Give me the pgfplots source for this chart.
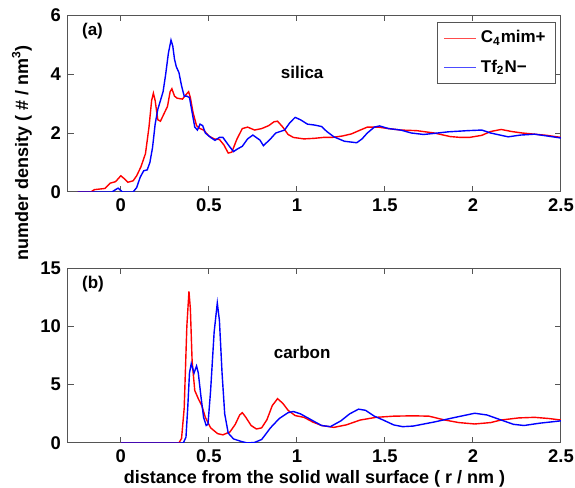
\documentclass[border=0pt]{standalone}
\usepackage{fontspec}
\setmainfont{Liberation Sans}
\usepackage{pgfplots}
\pgfplotsset{compat=1.18}
\definecolor{framegray}{HTML}{555555}

\newcommand\tickf{\fontsize{9.2}{11}\selectfont\bfseries}
\newcommand\labf{\fontsize{9}{11}\selectfont\bfseries}
\newcommand\notef{\fontsize{8.5}{10}\selectfont\bfseries}

\pgfplotsset{
  panel/.style={
    scale only axis,
    width=246.5pt,
    xmin=-0.3, xmax=2.5,
    xtick={0,0.5,1,1.5,2,2.5},
    tick align=inside,
    major tick length=3pt,
    axis line style={draw=framegray, line width=0.5pt},
    tick style={draw=framegray, line width=0.5pt},
    tick label style={font=\tickf},
    /pgf/number format/assume math mode=true,
    clip=true,
  },
}

\begin{document}
\begin{tikzpicture}
\useasboundingbox (0,0) rectangle (287.5pt,244pt);

% (a) silica
\begin{axis}[panel,
    at={(34pt,148pt)}, anchor=south west,
    height=88.5pt,
    ymin=0, ymax=6, ytick={0,2,4,6},
    legend style={at={(0.99,0.96)}, anchor=north east, draw=framegray,
      font=\notef, inner xsep=3pt, inner ysep=2pt, row sep=3pt,
      cells={anchor=west}},
    legend image code/.code={\draw[#1, line width=0.5pt, opacity=0.7] (0pt,0pt) -- (16pt,0pt);},
]
\addplot[red, line width=0.7pt] coordinates {
(-0.245,0) (-0.17,0) (-0.15,0.08) (-0.12,0.1) (-0.09,0.12) (-0.06,0.3)
(-0.03,0.35) (0.0,0.55) (0.02,0.45) (0.04,0.33) (0.07,0.38) (0.09,0.55)
(0.114,0.85) (0.14,1.3) (0.16,2.2) (0.175,3.1) (0.185,3.35) (0.195,3.1)
(0.21,2.45) (0.225,2.4) (0.245,2.65) (0.265,2.9) (0.28,3.4) (0.29,3.5)
(0.305,3.25) (0.32,3.18) (0.35,3.15) (0.37,3.3) (0.385,3.4) (0.395,3.2)
(0.41,2.7) (0.43,2.25) (0.45,2.15) (0.47,2.1) (0.5,1.9) (0.53,1.8)
(0.56,1.78) (0.585,1.6) (0.61,1.32) (0.63,1.35) (0.66,1.8) (0.69,2.15)
(0.72,2.2) (0.76,2.1) (0.8,2.15) (0.84,2.25) (0.87,2.38) (0.89,2.4)
(0.92,2.2) (0.95,1.95) (0.98,1.85) (1.04,1.8) (1.1,1.82) (1.15,1.85)
(1.2,1.85) (1.26,1.9) (1.31,1.97) (1.36,2.1) (1.4,2.2) (1.46,2.2)
(1.52,2.15) (1.59,2.1) (1.68,2.08) (1.78,2.0) (1.87,1.88) (1.93,1.85)
(1.98,1.85) (2.05,1.92) (2.1,2.05) (2.16,2.12) (2.22,2.05) (2.28,2.0)
(2.35,1.96) (2.42,1.92) (2.5,1.85)
};
\addplot[blue, line width=0.7pt] coordinates {
(-0.245,0) (-0.05,0) (-0.03,0.08) (-0.015,0.13) (0.0,0.05) (0.01,0)
(0.07,0) (0.09,0.15) (0.11,0.5) (0.13,0.72) (0.15,0.75) (0.165,1.0)
(0.18,1.5) (0.195,2.3) (0.21,2.8) (0.225,3.1) (0.24,3.4) (0.255,4.0)
(0.27,4.7) (0.285,5.15) (0.295,4.95) (0.305,4.5) (0.315,4.25) (0.33,4.05)
(0.345,3.6) (0.36,3.25) (0.375,3.25) (0.39,3.2) (0.405,2.7) (0.42,2.2)
(0.435,2.1) (0.45,2.3) (0.465,2.25) (0.48,2.0) (0.51,1.85) (0.535,1.75)
(0.56,1.85) (0.58,1.85) (0.61,1.6) (0.64,1.37) (0.66,1.45) (0.69,1.55)
(0.72,1.8) (0.75,1.93) (0.79,1.76) (0.81,1.57) (0.85,1.8) (0.88,2.0)
(0.93,2.1) (0.96,2.35) (0.99,2.53) (1.02,2.45) (1.06,2.3) (1.1,2.27)
(1.14,2.22) (1.17,2.05) (1.21,1.87) (1.27,1.72) (1.34,1.67) (1.37,1.8)
(1.40,2.0) (1.44,2.2) (1.47,2.24) (1.52,2.15) (1.59,2.1) (1.65,2.0)
(1.72,1.95) (1.8,2.0) (1.86,2.04) (1.97,2.08) (2.05,2.1) (2.1,2.0)
(2.2,1.87) (2.27,1.93) (2.35,1.96) (2.42,1.9) (2.5,1.83)
};
\legend{C\textsubscript{4}mim+, Tf\textsubscript{2}N−}
\node[font=\notef, anchor=west] at (axis cs:-0.26,5.45) {(a)};
\node[font=\notef] at (axis cs:1.03,4.05) {silica};
\end{axis}

% (b) carbon
\begin{axis}[panel,
    at={(34pt,22.5pt)}, anchor=south west,
    height=87.5pt,
    ymin=0, ymax=15, ytick={0,5,10,15},
    xlabel={distance from the solid wall surface ( r / nm )},
    xlabel style={font=\labf, yshift=3pt},
]
\addplot[red, line width=0.7pt] coordinates {
(0,0) (0.33,0) (0.345,0.4) (0.36,3) (0.375,10) (0.387,13) (0.395,11.5)
(0.405,7) (0.42,4.5) (0.44,3.8) (0.46,3.2) (0.48,2.2) (0.51,1.3)
(0.55,0.8) (0.58,0.7) (0.62,0.95) (0.65,1.6) (0.675,2.4) (0.69,2.6)
(0.71,2.2) (0.74,1.5) (0.77,1.2) (0.8,1.3) (0.83,2.0) (0.86,3.2)
(0.89,3.8) (0.92,3.4) (0.95,2.8) (0.99,2.35) (1.04,2.2) (1.09,1.8)
(1.14,1.5) (1.21,1.34) (1.28,1.55) (1.36,1.97) (1.45,2.2) (1.55,2.3)
(1.66,2.33) (1.75,2.3) (1.84,1.97) (1.92,1.75) (2.01,1.63) (2.1,1.75)
(2.16,1.97) (2.26,2.15) (2.35,2.2) (2.43,2.1) (2.5,1.97)
};
\addplot[blue, line width=0.7pt] coordinates {
(0,0) (0.355,0) (0.37,0.5) (0.38,3) (0.39,6) (0.4,6.8) (0.416,6.0)
(0.43,6.6) (0.44,6.0) (0.455,4) (0.47,2.2) (0.485,1.5) (0.495,1.6)
(0.51,4.5) (0.53,9.5) (0.548,12) (0.56,10.5) (0.575,6) (0.59,2.5)
(0.61,0.85) (0.64,0.35) (0.68,0.15) (0.72,0) (0.76,0.05) (0.8,0.3)
(0.85,1.3) (0.9,2.1) (0.95,2.6) (0.98,2.7) (1.02,2.5) (1.08,2.0)
(1.14,1.5) (1.19,1.4) (1.25,1.9) (1.3,2.5) (1.35,2.9) (1.39,2.8)
(1.44,2.3) (1.49,1.97) (1.55,1.55) (1.6,1.4) (1.66,1.45) (1.78,1.8)
(1.9,2.2) (2.01,2.55) (2.08,2.4) (2.16,1.97) (2.23,1.6) (2.29,1.5)
(2.38,1.7) (2.5,1.9)
};
\node[font=\notef, anchor=west] at (axis cs:-0.26,13.6) {(b)};
\node[font=\notef] at (axis cs:1.03,7.8) {carbon};
\end{axis}

\node[font=\labf, rotate=90] at (11pt,167.5pt) {numder density ( \# / nm\textsuperscript{3})};
\end{tikzpicture}
\end{document}
